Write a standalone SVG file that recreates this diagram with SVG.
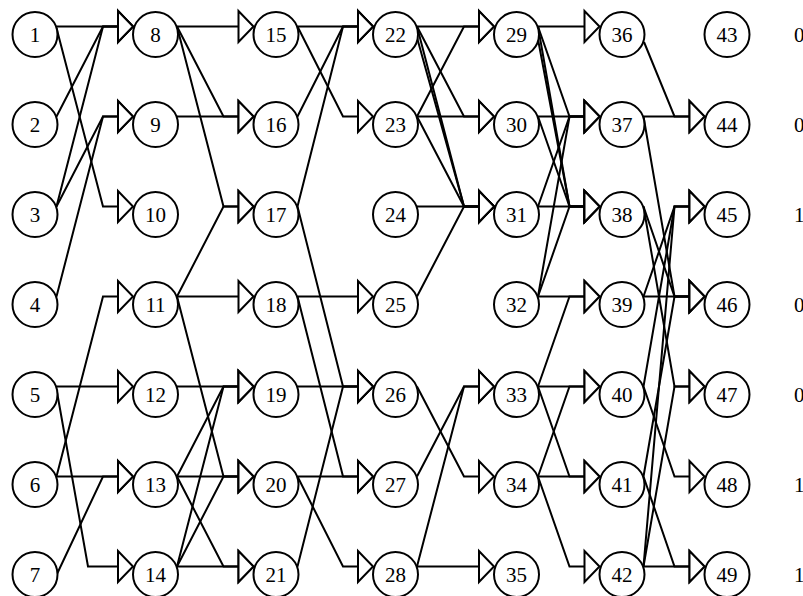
<svg xmlns="http://www.w3.org/2000/svg" width="803" height="596" viewBox="0 0 803 596">
<style>
.e{fill:none;stroke:#000;stroke-width:2;stroke-linejoin:miter;marker-end:url(#tri)}
.n circle{fill:#fff;stroke:#000;stroke-width:2}
text{font-family:"Liberation Serif","Times New Roman",serif;font-size:21px;fill:#000}
.n text{text-anchor:middle}
</style>
<defs>
<marker id="tri" markerUnits="userSpaceOnUse" markerWidth="20" markerHeight="36" viewBox="-2 -17 20 34" refX="0" refY="0" orient="auto" overflow="visible">
<path d="M0,-15.5 L0,15.5 L15,0 Z" fill="#fff" stroke="#000" stroke-width="2"/>
</marker>
</defs>
<rect width="803" height="596" fill="#fff"/>
<g id="connectors">
<path class="e" d="M56.5,26.5 L118,26.5"/>
<path class="e" d="M56.5,116.5 L103,26.5 L118,26.5"/>
<path class="e" d="M56.5,206.5 L103,26.5 L118,26.5"/>
<path class="e" d="M56.5,206.5 L103,116.5 L118,116.5"/>
<path class="e" d="M56.5,296.5 L103,116.5 L118,116.5"/>
<path class="e" d="M56.5,28 L103,206.5 L118,206.5"/>
<path class="e" d="M56.5,476.5 L103,296.5 L118,296.5"/>
<path class="e" d="M56.5,386.5 L118,386.5"/>
<path class="e" d="M56.5,476.5 L118,476.5"/>
<path class="e" d="M57,574 L103,476.5 L118,476.5"/>
<path class="e" d="M57,392 L88,566.5 L118,566.5"/>

<path class="e" d="M177,26.5 L238.5,26.5"/>
<path class="e" d="M177,26.5 L223.5,116.5 L238.5,116.5"/>
<path class="e" d="M177,116.5 L238.5,116.5"/>
<path class="e" d="M177,26.5 L223.5,206.5 L238.5,206.5"/>
<path class="e" d="M177,296.5 L223.5,206.5 L238.5,206.5"/>
<path class="e" d="M177,296.5 L238.5,296.5"/>
<path class="e" d="M177,386.5 L238.5,386.5"/>
<path class="e" d="M177,476.5 L223.5,386.5 L238.5,386.5"/>
<path class="e" d="M177,566.5 L223.5,386.5 L238.5,386.5"/>
<path class="e" d="M177,296.5 L223.5,476.5 L238.5,476.5"/>
<path class="e" d="M177,476.5 L238.5,476.5"/>
<path class="e" d="M177,566.5 L223.5,476.5 L238.5,476.5"/>
<path class="e" d="M177,476.5 L223.5,566.5 L238.5,566.5"/>
<path class="e" d="M177,566.5 L238.5,566.5"/>

<path class="e" d="M297.5,26.5 L358,26.5"/>
<path class="e" d="M297.5,116.5 L343,26.5 L358,26.5"/>
<path class="e" d="M297.5,206.5 L343,26.5 L358,26.5"/>
<path class="e" d="M297.5,26.5 L343,116.5 L358,116.5"/>
<path class="e" d="M297.5,296.5 L358,296.5"/>
<path class="e" d="M297.5,386.5 L358,386.5"/>
<path class="e" d="M297.5,206.5 L343,386.5 L358,386.5"/>
<path class="e" d="M297.5,566.5 L343,386.5 L358,386.5"/>
<path class="e" d="M297.5,476.5 L358,476.5"/>
<path class="e" d="M297.5,296.5 L343,476.5 L358,476.5"/>
<path class="e" d="M297.5,476.5 L343,566.5 L358,566.5"/>

<path class="e" d="M417,26.5 L479,26.5"/>
<path class="e" d="M417,116.5 L464,26.5 L479,26.5"/>
<path class="e" d="M417,26.5 L464,116.5 L479,116.5"/>
<path class="e" d="M417,116.5 L479,116.5"/>
<path class="e" d="M417,26.5 L464,206.5 L479,206.5"/>
<path class="e" d="M416,34 L464,206.5 L479,206.5"/>
<path class="e" d="M417,116.5 L464,206.5 L479,206.5"/>
<path class="e" d="M417,206.5 L479,206.5"/>
<path class="e" d="M417,296.5 L464,206.5 L479,206.5"/>
<path class="e" d="M417,476.5 L464,386.5 L479,386.5"/>
<path class="e" d="M417,566.5 L464,386.5 L479,386.5"/>
<path class="e" d="M417,386.5 L464,476.5 L479,476.5"/>
<path class="e" d="M417,566.5 L479,566.5"/>

<path class="e" d="M538,26.5 L584.5,26.5"/>
<path class="e" d="M538,26.5 L569.5,116.5 L584.5,116.5"/>
<path class="e" d="M538,116.5 L584.5,116.5"/>
<path class="e" d="M538,206.5 L569.5,116.5 L584.5,116.5"/>
<path class="e" d="M538,296.5 L569.5,116.5 L584.5,116.5"/>
<path class="e" d="M538,26.5 L569.5,206.5 L584.5,206.5"/>
<path class="e" d="M537,34 L569.5,206.5 L584.5,206.5"/>
<path class="e" d="M538,116.5 L569.5,206.5 L584.5,206.5"/>
<path class="e" d="M538,206.5 L584.5,206.5"/>
<path class="e" d="M538,296.5 L569.5,206.5 L584.5,206.5"/>
<path class="e" d="M538,296.5 L584.5,296.5"/>
<path class="e" d="M538,386.5 L569.5,296.5 L584.5,296.5"/>
<path class="e" d="M538,386.5 L584.5,386.5"/>
<path class="e" d="M538,476.5 L569.5,386.5 L584.5,386.5"/>
<path class="e" d="M538,386.5 L569.5,476.5 L584.5,476.5"/>
<path class="e" d="M538,476.5 L584.5,476.5"/>
<path class="e" d="M538,476.5 L569.5,566.5 L584.5,566.5"/>

<path class="e" d="M644,42 L674.5,116.5 L689.5,116.5"/>
<path class="e" d="M643.5,116.5 L689.5,116.5"/>
<path class="e" d="M643.5,116.5 L674.5,296.5 L689.5,296.5"/>
<path class="e" d="M643.5,206.5 L674.5,296.5 L689.5,296.5"/>
<path class="e" d="M643.5,206.5 L674.5,386.5 L689.5,386.5"/>
<path class="e" d="M643.5,296.5 L674.5,206.5 L689.5,206.5"/>
<path class="e" d="M643.5,296.5 L689.5,296.5"/>
<path class="e" d="M643.5,386.5 L674.5,206.5 L689.5,206.5"/>
<path class="e" d="M643.5,386.5 L674.5,476.5 L689.5,476.5"/>
<path class="e" d="M643.5,476.5 L674.5,296.5 L689.5,296.5"/>
<path class="e" d="M643.5,476.5 L674.5,566.5 L689.5,566.5"/>
<path class="e" d="M643.5,566.5 L674.5,386.5 L689.5,386.5"/>
<path class="e" d="M643.5,566.5 L689.5,566.5"/>
<path class="e" d="M643.5,566.5 L674.5,206.5 L689.5,206.5"/>
</g>
<g id="nodes">
<g id="n1" class="n"><circle cx="35" cy="34.5" r="22.5"/><text x="35" y="42">1</text></g>
<g id="n2" class="n"><circle cx="35" cy="124.5" r="22.5"/><text x="35" y="132">2</text></g>
<g id="n3" class="n"><circle cx="35" cy="214.5" r="22.5"/><text x="35" y="222">3</text></g>
<g id="n4" class="n"><circle cx="35" cy="304.5" r="22.5"/><text x="35" y="312">4</text></g>
<g id="n5" class="n"><circle cx="35" cy="394.5" r="22.5"/><text x="35" y="402">5</text></g>
<g id="n6" class="n"><circle cx="35" cy="484.5" r="22.5"/><text x="35" y="492">6</text></g>
<g id="n7" class="n"><circle cx="35" cy="574.5" r="22.5"/><text x="35" y="582">7</text></g>
<g id="n8" class="n"><circle cx="155.5" cy="34.5" r="22.5"/><text x="155.5" y="42">8</text></g>
<g id="n9" class="n"><circle cx="155.5" cy="124.5" r="22.5"/><text x="155.5" y="132">9</text></g>
<g id="n10" class="n"><circle cx="155.5" cy="214.5" r="22.5"/><text x="155.5" y="222">10</text></g>
<g id="n11" class="n"><circle cx="155.5" cy="304.5" r="22.5"/><text x="155.5" y="312">11</text></g>
<g id="n12" class="n"><circle cx="155.5" cy="394.5" r="22.5"/><text x="155.5" y="402">12</text></g>
<g id="n13" class="n"><circle cx="155.5" cy="484.5" r="22.5"/><text x="155.5" y="492">13</text></g>
<g id="n14" class="n"><circle cx="155.5" cy="574.5" r="22.5"/><text x="155.5" y="582">14</text></g>
<g id="n15" class="n"><circle cx="276" cy="34.5" r="22.5"/><text x="276" y="42">15</text></g>
<g id="n16" class="n"><circle cx="276" cy="124.5" r="22.5"/><text x="276" y="132">16</text></g>
<g id="n17" class="n"><circle cx="276" cy="214.5" r="22.5"/><text x="276" y="222">17</text></g>
<g id="n18" class="n"><circle cx="276" cy="304.5" r="22.5"/><text x="276" y="312">18</text></g>
<g id="n19" class="n"><circle cx="276" cy="394.5" r="22.5"/><text x="276" y="402">19</text></g>
<g id="n20" class="n"><circle cx="276" cy="484.5" r="22.5"/><text x="276" y="492">20</text></g>
<g id="n21" class="n"><circle cx="276" cy="574.5" r="22.5"/><text x="276" y="582">21</text></g>
<g id="n22" class="n"><circle cx="395.5" cy="34.5" r="22.5"/><text x="395.5" y="42">22</text></g>
<g id="n23" class="n"><circle cx="395.5" cy="124.5" r="22.5"/><text x="395.5" y="132">23</text></g>
<g id="n24" class="n"><circle cx="395.5" cy="214.5" r="22.5"/><text x="395.5" y="222">24</text></g>
<g id="n25" class="n"><circle cx="395.5" cy="304.5" r="22.5"/><text x="395.5" y="312">25</text></g>
<g id="n26" class="n"><circle cx="395.5" cy="394.5" r="22.5"/><text x="395.5" y="402">26</text></g>
<g id="n27" class="n"><circle cx="395.5" cy="484.5" r="22.5"/><text x="395.5" y="492">27</text></g>
<g id="n28" class="n"><circle cx="395.5" cy="574.5" r="22.5"/><text x="395.5" y="582">28</text></g>
<g id="n29" class="n"><circle cx="516.5" cy="34.5" r="22.5"/><text x="516.5" y="42">29</text></g>
<g id="n30" class="n"><circle cx="516.5" cy="124.5" r="22.5"/><text x="516.5" y="132">30</text></g>
<g id="n31" class="n"><circle cx="516.5" cy="214.5" r="22.5"/><text x="516.5" y="222">31</text></g>
<g id="n32" class="n"><circle cx="516.5" cy="304.5" r="22.5"/><text x="516.5" y="312">32</text></g>
<g id="n33" class="n"><circle cx="516.5" cy="394.5" r="22.5"/><text x="516.5" y="402">33</text></g>
<g id="n34" class="n"><circle cx="516.5" cy="484.5" r="22.5"/><text x="516.5" y="492">34</text></g>
<g id="n35" class="n"><circle cx="516.5" cy="574.5" r="22.5"/><text x="516.5" y="582">35</text></g>
<g id="n36" class="n"><circle cx="622" cy="34.5" r="22.5"/><text x="622" y="42">36</text></g>
<g id="n37" class="n"><circle cx="622" cy="124.5" r="22.5"/><text x="622" y="132">37</text></g>
<g id="n38" class="n"><circle cx="622" cy="214.5" r="22.5"/><text x="622" y="222">38</text></g>
<g id="n39" class="n"><circle cx="622" cy="304.5" r="22.5"/><text x="622" y="312">39</text></g>
<g id="n40" class="n"><circle cx="622" cy="394.5" r="22.5"/><text x="622" y="402">40</text></g>
<g id="n41" class="n"><circle cx="622" cy="484.5" r="22.5"/><text x="622" y="492">41</text></g>
<g id="n42" class="n"><circle cx="622" cy="574.5" r="22.5"/><text x="622" y="582">42</text></g>
<g id="n43" class="n"><circle cx="727" cy="34.5" r="22.5"/><text x="727" y="42">43</text></g>
<g id="n44" class="n"><circle cx="727" cy="124.5" r="22.5"/><text x="727" y="132">44</text></g>
<g id="n45" class="n"><circle cx="727" cy="214.5" r="22.5"/><text x="727" y="222">45</text></g>
<g id="n46" class="n"><circle cx="727" cy="304.5" r="22.5"/><text x="727" y="312">46</text></g>
<g id="n47" class="n"><circle cx="727" cy="394.5" r="22.5"/><text x="727" y="402">47</text></g>
<g id="n48" class="n"><circle cx="727" cy="484.5" r="22.5"/><text x="727" y="492">48</text></g>
<g id="n49" class="n"><circle cx="727" cy="574.5" r="22.5"/><text x="727" y="582">49</text></g>
</g>
<g id="labels">
<text x="794" y="42">0</text>
<text x="794" y="132">0</text>
<text x="794" y="222">1</text>
<text x="794" y="312">0</text>
<text x="794" y="402">0</text>
<text x="794" y="492">1</text>
<text x="794" y="582">1</text>
</g>
</svg>
